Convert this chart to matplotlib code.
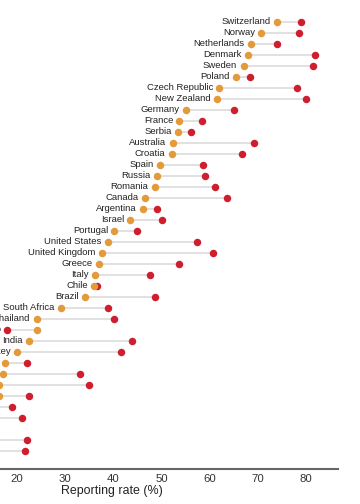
import matplotlib
matplotlib.use("Agg")
import matplotlib.pyplot as plt
import numpy as np

plt.rcParams['font.family'] = ['Liberation Sans', 'DejaVu Sans']

countries = ["Switzerland", "Norway", "Netherlands", "Denmark", "Sweden", "Poland",
             "Czech Republic", "New Zealand", "Germany", "France", "Serbia", "Australia",
             "Croatia", "Spain", "Russia", "Romania", "Canada", "Argentina", "Israel",
             "Portugal", "United States", "United Kingdom", "Greece", "Italy", "Chile",
             "Brazil", "South Africa", "Thailand", "Mexico", "India", "Turkey", "Ghana",
             "UAE", "Indonesia", "Malaysia", "Kenya", "Kazakhstan", "Peru", "Morocco", "China"]

# reporting rate, wallet with no money (orange)
no_money = [73.9, 70.7, 68.5, 68.0, 67.0, 65.5, 62.0, 61.5, 55.1, 53.7, 53.4, 52.3,
            52.1, 49.6, 49.1, 48.6, 46.6, 46.1, 43.5, 40.2, 38.8, 37.6, 37.1, 36.2, 36.0,
            34.1, 29.1, 24.1, 24.1, 22.5, 20.1, 17.5, 17.2, 16.3, 16.3, 13.0, 12.0,
            10.0, 9.0, 8.0]
# reporting rate, wallet with money (red)
money = [79.0, 78.6, 74.0, 81.9, 81.5, 68.4, 78.0, 80.0, 65.1, 58.4, 56.1, 69.1,
         66.7, 58.6, 59.0, 61.1, 63.5, 49.1, 50.1, 45.0, 57.3, 60.6, 53.6, 47.6, 36.6,
         48.7, 38.8, 40.1, 18.0, 43.8, 41.6, 22.1, 33.1, 35.0, 22.6, 19.0, 21.0,
         14.0, 22.1, 21.6]

orange = "#e39a3b"
red = "#cf1f2e"

fig = plt.figure(figsize=(3.6, 5.04), dpi=100)
ax = fig.add_axes([0, 0.0694, 0.939, 0.9306])

y = np.arange(len(countries))
ax.hlines(y, np.minimum(no_money, money), np.maximum(no_money, money),
          color="#d9d9d9", lw=1.1, zorder=1)
ax.scatter(money, y, s=29, color=red, zorder=2, linewidths=0)
ax.scatter(no_money, y, s=29, color=orange, zorder=3, linewidths=0)

for yi, name, a, b in zip(y, countries, no_money, money):
    ax.annotate(name, (min(a, b), yi), xytext=(-4.5, 0), textcoords="offset points",
                ha="right", va="center", fontsize=6.8, color="#222222",
                annotation_clip=False)

ax.set_xlim(16.5, 86.6)
ax.set_ylim(40.64, -2)
ax.set_xticks([20, 30, 40, 50, 60, 70, 80])
ax.set_yticks([])
for s in ["left", "top", "right"]:
    ax.spines[s].set_visible(False)
ax.spines["bottom"].set_color("#666666")
ax.spines["bottom"].set_linewidth(1.5)
ax.tick_params(axis="x", length=0, pad=3.5, labelsize=8.2, labelcolor="#333333")
ax.set_xlabel("Reporting rate (%)", fontsize=8.9, color="#222222", labelpad=0)
ax.xaxis.set_label_coords(0.33, -0.034)

fig.savefig("out.png", dpi=100)
